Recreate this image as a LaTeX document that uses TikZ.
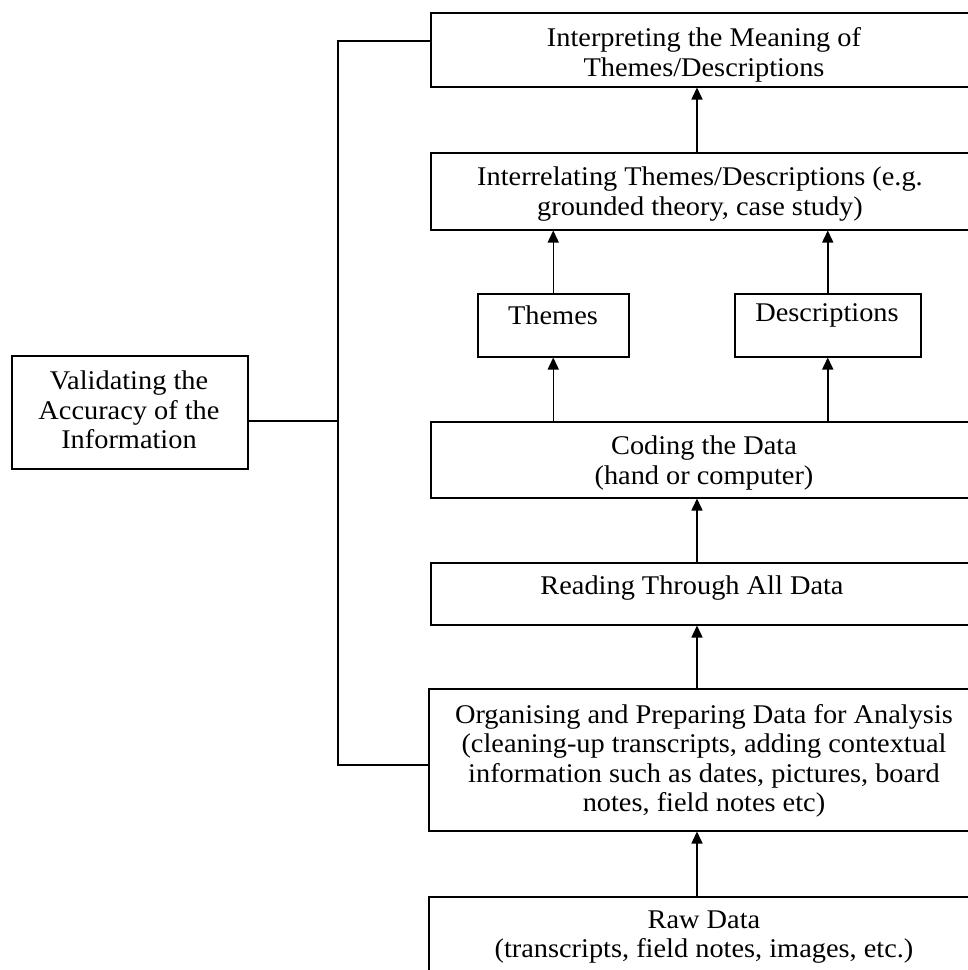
\documentclass[tikz,border=0pt]{standalone}
\usepackage{fontspec}
\setmainfont{Liberation Serif}[FakeStretch=1.05]
\usetikzlibrary{arrows.meta}
\begin{document}
\begin{tikzpicture}[x=1pt,y=-1pt,
  box/.style={draw,line width=1.5pt,rectangle,inner sep=0pt,anchor=north west},
  txt/.style={align=center,inner sep=0pt,font=\fontsize{27}{29.5}\selectfont},
  arr/.style={line width=1.5pt,-{Triangle[width=11pt,length=12pt]}},
  lnk/.style={line width=1.5pt}]
\useasboundingbox (0,0) rectangle (968,970);
\clip (0,0) rectangle (968,970);
% boxes
\node[box,minimum width=548,minimum height=74] (interp) at (430,12) {};
\node[box,minimum width=548,minimum height=77] (interrel) at (430,152) {};
\node[box,minimum width=151,minimum height=63] (themes) at (477,293) {};
\node[box,minimum width=186,minimum height=63] (desc) at (734,293) {};
\node[box,minimum width=548,minimum height=76] (coding) at (430,421) {};
\node[box,minimum width=548,minimum height=62] (read) at (430,562) {};
\node[box,minimum width=550,minimum height=142] (org) at (428,688) {};
\node[box,minimum width=550,minimum height=90] (raw) at (428,896) {};
\node[box,minimum width=236,minimum height=113] (valid) at (11,355) {};
% texts
\node[txt] (interpT) at (704,55) {Interpreting the Meaning of\\Themes/Descriptions};
\node[txt] (interrelT) at (700,194) {Interrelating Themes/Descriptions (e.g.\\grounded theory, case study)};
\node[txt] (themesT) at (553,315) {Themes};
\node[txt] (descT) at (827,315) {Descriptions};
\node[txt] (codingT) at (704,463) {Coding the Data\\(hand or computer)};
\node[txt] (readT) at (692,588) {Reading Through All Data};
\node[txt] (orgT) at (704,761) {Organising and Preparing Data for Analysis\\(cleaning-up transcripts, adding contextual\\information such as dates, pictures, board\\notes, field notes etc)};
\node[txt] (rawT) at (704,937) {Raw Data\\(transcripts, field notes, images, etc.)};
\node[txt] (validT) at (129,410) {Validating the\\Accuracy of the\\Information};
% helper coordinates
\coordinate (ax) at (697,0);
\coordinate (vt) at (338,41);
\coordinate (vm) at (338,421);
\coordinate (vb) at (338,765);
% arrows
\draw[arr] (raw.north -| ax) -- (org.south -| ax);
\draw[arr] (org.north -| ax) -- (read.south -| ax);
\draw[arr] (read.north -| ax) -- (coding.south -| ax);
\draw[arr] (coding.north -| themes.south) -- (themes.south);
\draw[arr] (coding.north -| desc.south) -- (desc.south);
\draw[arr] (themes.north) -- (interrel.south -| themes.north);
\draw[arr] (desc.north) -- (interrel.south -| desc.north);
\draw[arr] (interrel.north -| ax) -- (interp.south -| ax);
% validation links
\draw[lnk] (interp.west |- vt) -- (vt) -- (vb) -- (org.west |- vb);
\draw[lnk] (valid.east |- vm) -- (vm);
\end{tikzpicture}
\end{document}
